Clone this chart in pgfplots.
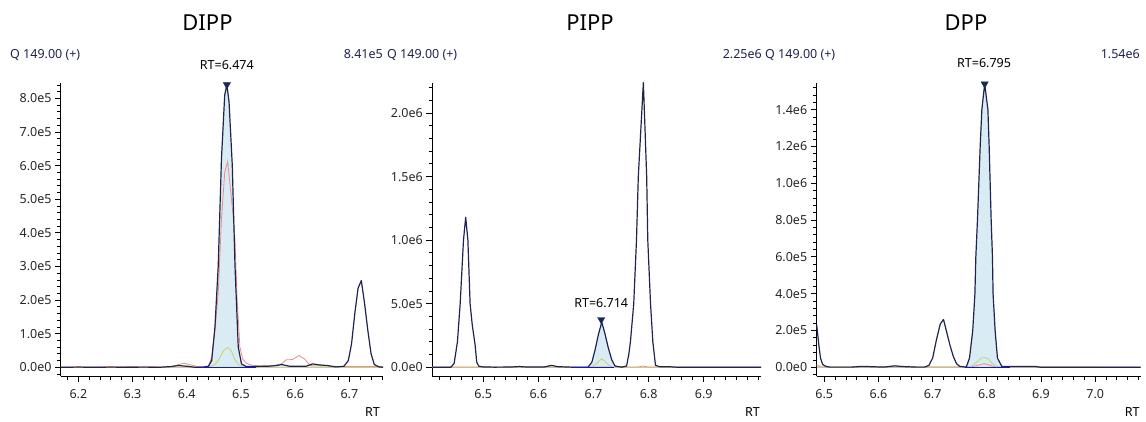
\documentclass[border=0pt]{standalone}
\usepackage{pgfplots}
\pgfplotsset{compat=1.18}
\usepackage{fontspec}
\setmainfont{Noto Sans}
\definecolor{navy}{HTML}{1E2350}
\definecolor{redtr}{HTML}{F08A84}
\definecolor{greentr}{HTML}{C2D274}
\definecolor{bluebl}{HTML}{0A14F0}
\definecolor{areafill}{HTML}{DAECF3}
\definecolor{markc}{HTML}{16285C}
\definecolor{grayline}{HTML}{C8C8C8}
\begin{document}
\begin{tikzpicture}
\path[use as bounding box] (0pt,0pt) rectangle (1146pt,421pt);
\pgfplotsset{
  chrom/.style={
    scale only axis, anchor=south west, clip=false,
    scaled x ticks=false, scaled y ticks=false,
    axis lines=left, axis line style={-, line width=1pt, black},
    tick align=outside, major tick length=6pt, minor tick length=3.5pt,
    every tick/.style={black, line width=0.8pt},
    tick label style={font=\fontsize{12.5}{14}\selectfont, text=black!85},
    xticklabel style={yshift=-4pt},
    xtick pos=bottom, ytick pos=left,
  },
  navyline/.style={navy, line width=1.2pt, line join=round},
  redline/.style={redtr, line width=0.8pt},
  greenline/.style={greentr, line width=0.8pt},
  blueline/.style={bluebl, line width=1.4pt},
  rtmark/.style={only marks, mark=triangle*, mark size=4.2pt, mark options={rotate=180, fill=markc, draw=markc}},
}
\newcommand{\smallfont}{\fontsize{12.5}{14}\selectfont}
% titles and headers
\node[anchor=base, font=\fontsize{22}{26}\selectfont] at (207.5pt,390.3pt) {DIPP};
\node[anchor=base, font=\fontsize{22}{26}\selectfont] at (590pt,390.3pt) {PIPP};
\node[anchor=base, font=\fontsize{22}{26}\selectfont] at (966pt,390.3pt) {DPP};
\node[anchor=base west, inner sep=0pt, font=\smallfont, text=navy] at (10pt,362pt) {Q 149.00 (+)};
\node[anchor=base east, inner sep=0pt, font=\smallfont, text=navy] at (383pt,362pt) {8.41e5};
\node[anchor=base west, inner sep=0pt, font=\smallfont, text=navy] at (387pt,362pt) {Q 149.00 (+)};
\node[anchor=base east, inner sep=0pt, font=\smallfont, text=navy] at (762pt,362pt) {2.25e6};
\node[anchor=base west, inner sep=0pt, font=\smallfont, text=navy] at (765pt,362pt) {Q 149.00 (+)};
\node[anchor=base east, inner sep=0pt, font=\smallfont, text=navy] at (1140pt,362pt) {1.54e6};

% ---------------- DIPP ----------------
\begin{axis}[chrom, at={(61pt,45pt)}, width=322pt, height=293pt,
  xmin=6.168, xmax=6.762, ymin=-26000, ymax=846000,
  xtick={6.2,6.3,6.4,6.5,6.6,6.7}, xticklabels={6.2,6.3,6.4,6.5,6.6,6.7},
  minor xtick={6.18,6.20,...,6.765},
  ytick={0,100000,200000,300000,400000,500000,600000,700000,800000},
  yticklabels={0.0e0,1.0e5,2.0e5,3.0e5,4.0e5,5.0e5,6.0e5,7.0e5,8.0e5},
  minor ytick={-20000,0,...,845000},
]
\addplot[fill=areafill, draw=none] coordinates {
(6.425,0)(6.44,3000)(6.446,20000)(6.452,120000)(6.458,300000)(6.464,620000)(6.470,810000)(6.474,841000)
(6.478,790000)(6.484,600000)(6.489,300000)(6.495,60000)(6.501,10000)(6.51,2000)(6.528,2000)(6.528,0)};
\addplot[grayline, line width=0.8pt] coordinates {(6.168,0)(6.762,0)};
\addplot[redline] coordinates {
(6.168,0)(6.19,1000)(6.20,2500)(6.21,1000)(6.24,500)(6.26,2500)(6.275,1000)(6.30,2500)(6.32,1000)
(6.335,2000)(6.35,500)(6.37,1000)(6.385,8000)(6.395,12000)(6.405,8000)(6.42,2000)(6.44,3000)
(6.446,30000)(6.452,110000)(6.458,220000)(6.464,440000)(6.470,580000)(6.4755,612000)(6.480,540000)
(6.485,460000)(6.489,380000)(6.493,200000)(6.498,60000)(6.503,25000)(6.51,12000)(6.52,6000)
(6.54,4000)(6.56,5000)(6.575,10000)(6.583,22000)(6.595,23000)(6.607,35000)(6.617,25000)
(6.628,5000)(6.65,4000)(6.67,3000)(6.69,2000)(6.762,2000)};
\addplot[greenline] coordinates {
(6.168,0)(6.44,0)(6.452,8000)(6.46,25000)(6.468,50000)(6.475,59000)(6.482,50000)(6.488,25000)
(6.495,8000)(6.505,1000)(6.762,0)};
\addplot[navyline] coordinates {
(6.168,0)(6.20,500)(6.23,0)(6.26,500)(6.29,0)(6.32,500)(6.35,0)(6.37,2000)(6.385,5000)(6.40,3000)
(6.415,0)(6.43,0)(6.44,3000)(6.446,20000)(6.452,120000)(6.458,300000)(6.464,620000)(6.470,810000)
(6.474,841000)(6.478,790000)(6.484,600000)(6.489,300000)(6.495,60000)(6.501,10000)(6.51,2000)
(6.55,3000)(6.565,5000)(6.575,8000)(6.59,3000)(6.62,3000)(6.632,10000)(6.645,7000)(6.66,5000)
(6.675,1000)(6.69,3000)(6.698,20000)(6.704,70000)(6.710,160000)(6.716,235000)(6.722,258000)
(6.728,190000)(6.734,110000)(6.740,40000)(6.746,8000)(6.755,1000)(6.762,0)};
\addplot[blueline] coordinates {(6.425,0)(6.528,0)};
\addplot[rtmark] coordinates {(6.474,841000)};
\node[anchor=base, font=\smallfont] at (axis cs:6.474,841000) [yshift=15.5pt] {RT=6.474};
\node[anchor=base east, font=\smallfont, inner sep=0pt] at (axis description cs:1,0) [xshift=-3pt, yshift=-40pt] {RT};
\end{axis}

% ---------------- PIPP ----------------
\begin{axis}[chrom, at={(432.3pt,45pt)}, width=328.7pt, height=293pt,
  xmin=6.4074, xmax=7.004, ymin=-68500, ymax=2236000,
  xtick={6.5,6.6,6.7,6.8,6.9}, xticklabels={6.5,6.6,6.7,6.8,6.9},
  minor xtick={6.42,6.44,...,7.005},
  ytick={0,500000,1000000,1500000,2000000},
  yticklabels={0.0e0,5.0e5,1.0e6,1.5e6,2.0e6},
  minor ytick={0,100000,...,2250000},
]
\addplot[fill=areafill, draw=none] coordinates {
(6.662,0)(6.69,1000)(6.697,40000)(6.703,140000)(6.709,260000)(6.715,355000)(6.721,260000)
(6.727,150000)(6.733,60000)(6.737,20000)(6.737,0)};
\addplot[grayline, line width=0.8pt] coordinates {(6.4074,0)(7.004,0)};
\addplot[redline] coordinates {
(6.4074,1500)(6.78,1500)(6.79,10000)(6.80,1500)(7.004,1500)};
\addplot[greenline] coordinates {
(6.4074,0)(6.695,0)(6.703,20000)(6.709,45000)(6.715,66000)(6.721,45000)(6.727,20000)(6.735,0)(7.004,0)};
\addplot[navyline] coordinates {
(6.4074,0)(6.441,0)(6.447,30000)(6.453,200000)(6.458,500000)(6.464,1000000)(6.468,1180000)
(6.472,1000000)(6.476,500000)(6.480,330000)(6.485,180000)(6.488,40000)(6.492,8000)(6.50,3000)
(6.52,1000)(6.55,2000)(6.565,6000)(6.58,2000)(6.61,2000)(6.624,15000)(6.635,5000)(6.66,1000)
(6.69,1000)(6.697,40000)(6.703,140000)(6.709,260000)(6.715,355000)(6.721,260000)(6.727,150000)
(6.733,60000)(6.739,10000)(6.751,1000)(6.760,10000)(6.764,100000)(6.767,200000)(6.773,500000)
(6.778,1000000)(6.7813,1500000)(6.7905,2240000)(6.7965,1500000)(6.7985,1000000)(6.8035,500000)
(6.8077,200000)(6.8125,15000)(6.82,5000)(6.835,5000)(6.85,1000)(7.004,0)};
\addplot[blueline] coordinates {(6.662,0)(6.737,0)};
\addplot[rtmark] coordinates {(6.714,375000)};
\node[anchor=base, font=\smallfont] at (axis cs:6.714,355000) [yshift=14.6pt] {RT=6.714};
\node[anchor=base east, font=\smallfont, inner sep=0pt] at (axis description cs:1,0) [xshift=-1pt, yshift=-40pt] {RT};
\end{axis}

% ---------------- DPP ----------------
\begin{axis}[chrom, at={(816.7pt,45pt)}, width=324pt, height=293pt,
  xmin=6.486, xmax=7.084, ymin=-47300, ymax=1545000,
  xtick={6.5,6.6,6.7,6.8,6.9,7.0}, xticklabels={6.5,6.6,6.7,6.8,6.9,7.0},
  minor xtick={6.50,6.52,...,7.085},
  ytick={0,200000,400000,600000,800000,1000000,1200000,1400000},
  yticklabels={0.0e0,2.0e5,4.0e5,6.0e5,8.0e5,1.0e6,1.2e6,1.4e6},
  minor ytick={-40000,0,...,1530000},
]
\addplot[fill=areafill, draw=none] coordinates {
(6.76,0)(6.762,1000)(6.768,50000)(6.774,200000)(6.778,400000)(6.7797,600000)(6.7827,800000)
(6.7877,1200000)(6.7908,1400000)(6.796,1540000)(6.802,1400000)(6.8043,1200000)(6.808,800000)
(6.8104,600000)(6.8115,400000)(6.8153,200000)(6.8196,50000)(6.8277,5000)(6.835,4000)(6.843,4000)(6.843,0)};
\addplot[grayline, line width=0.8pt] coordinates {(6.486,0)(7.084,0)};
\addplot[redline] coordinates {
(6.486,8000)(6.495,2000)(6.77,2000)(6.785,12000)(6.795,20000)(6.805,12000)(6.815,2000)(7.084,1000)};
\addplot[greenline] coordinates {
(6.486,15000)(6.495,3000)(6.77,3000)(6.78,25000)(6.79,50000)(6.796,53000)(6.803,45000)(6.81,20000)
(6.82,3000)(7.084,0)};
\addplot[navyline] coordinates {
(6.486,230000)(6.490,120000)(6.493,50000)(6.497,15000)(6.503,5000)(6.51,1000)(6.55,1000)(6.57,5000)
(6.59,3000)(6.61,1000)(6.63,8000)(6.645,4000)(6.67,1000)(6.685,1000)(6.693,10000)(6.700,50000)
(6.707,150000)(6.714,235000)(6.720,260000)(6.726,190000)(6.732,120000)(6.738,60000)(6.744,20000)
(6.750,5000)(6.762,1000)(6.768,50000)(6.774,200000)(6.778,400000)(6.7797,600000)(6.7827,800000)
(6.7877,1200000)(6.7908,1400000)(6.796,1540000)(6.802,1400000)(6.8043,1200000)(6.808,800000)
(6.8104,600000)(6.8115,400000)(6.8153,200000)(6.8196,50000)(6.8277,5000)(6.835,4000)(6.89,4000)
(6.90,0)(7.084,0)};
\addplot[blueline] coordinates {(6.76,0)(6.843,0)};
\addplot[rtmark] coordinates {(6.796,1540000)};
\node[anchor=base, font=\smallfont] at (axis cs:6.795,1540000) [yshift=16pt] {RT=6.795};
\node[anchor=base east, font=\smallfont, inner sep=0pt] at (axis description cs:1,0) [xshift=-1pt, yshift=-40pt] {RT};
\end{axis}
\end{tikzpicture}
\end{document}
